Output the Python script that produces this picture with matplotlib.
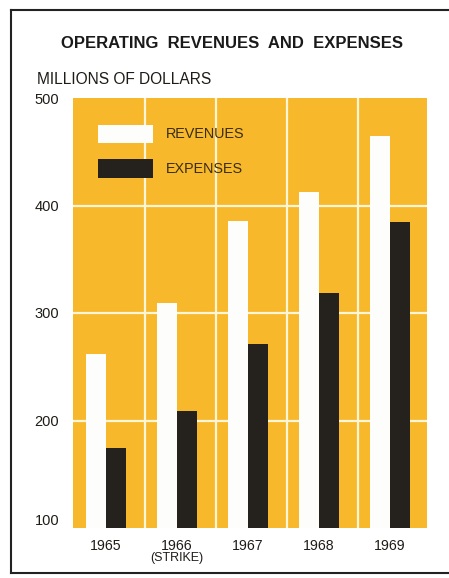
import matplotlib.pyplot as plt
from matplotlib.patches import Rectangle
from matplotlib.lines import Line2D
from matplotlib.transforms import blended_transform_factory
import numpy as np

plt.rcParams.update({
    "font.family": "sans-serif",
    "font.sans-serif": ["Liberation Sans", "DejaVu Sans"],
})

# Dati (milioni di dollari)
anni = ["1965", "1966", "1967", "1968", "1969"]
note_anni = {"1966": "(STRIKE)"}
revenues = [262, 309, 386, 413, 465]
expenses = [174, 209, 271, 319, 385]
y_ticks = [100, 200, 300, 400, 500]

ORANGE = "#F8B82C"
WHITE = "#FDFDFB"
BLACK = "#25211C"
TXT = "#1F1C18"

fig = plt.figure(figsize=(4.49, 5.78), dpi=100)
ax = fig.add_axes([73 / 449, 50 / 578, 354 / 449, 430 / 578])
ax.set_facecolor(ORANGE)

x = np.arange(len(anni))
w = 0.285
ax.bar(x - w / 2, revenues, w, bottom=0, color=WHITE, zorder=3, label="REVENUES")
ax.bar(x + w / 2, expenses, w, bottom=0, color=BLACK, zorder=3, label="EXPENSES")

ax.set_ylim(100, 500)
ax.set_xlim(-0.465, 4.52)

# griglia bianca
for yv in [200, 300, 400]:
    ax.axhline(yv, color="#FFF6D8", lw=1.6, zorder=1)
for xv in x[:-1] + 0.55:
    ax.axvline(xv, color="#FFF6D8", lw=1.6, zorder=1)

for s in ax.spines.values():
    s.set_visible(False)

ax.set_yticks(y_ticks)
ax.set_yticklabels([str(v) for v in y_ticks], fontsize=10.5, color=TXT)
ax.tick_params(axis="y", length=0, pad=10)
ax.get_yticklabels()[0].set_va("bottom")

ax.set_xticks(x)
ax.set_xticklabels(anni, fontsize=10.2, color=TXT)
ax.tick_params(axis="x", length=0, pad=8)

# nota sotto l'anno dello sciopero
trans = blended_transform_factory(ax.transData, fig.transFigure)
for i, a in enumerate(anni):
    if a in note_anni:
        ax.text(i, 1 - 558 / 578, note_anni[a], transform=trans, fontsize=9,
                color=TXT, ha="center", va="center")

# legenda manuale
lx0, lw = 98 / 449, 55 / 449
fig.patches.append(Rectangle((lx0, 1 - 143 / 578), lw, 18 / 578, transform=fig.transFigure,
                             facecolor=WHITE, edgecolor="none", zorder=5))
fig.patches.append(Rectangle((lx0, 1 - 178 / 578), lw, 19 / 578, transform=fig.transFigure,
                             facecolor=BLACK, edgecolor="none", zorder=5))
fig.text(166 / 449, 1 - 134 / 578, "REVENUES", fontsize=10.4, color="#3A2E14", va="center")
fig.text(166 / 449, 1 - 169 / 578, "EXPENSES", fontsize=10.4, color="#3A2E14", va="center")

# titoli
fig.text(232 / 449, 1 - 44 / 578, "OPERATING  REVENUES  AND  EXPENSES", fontsize=12,
         fontweight="bold", color="#1A1A1A", ha="center", va="center")
fig.text(37 / 449, 1 - 79 / 578, "MILLIONS OF DOLLARS", fontsize=11.2, color=TXT, va="center")

# cornice (sinistra, alto, basso)
for xs, ys in [((11, 11), (10, 573)), ((11, 449), (10, 10)), ((11, 449), (573, 573))]:
    fig.lines.append(Line2D([v / 449 for v in xs], [1 - v / 578 for v in ys],
                            transform=fig.transFigure, color="#222222", lw=1.5))

fig.savefig("out.png", dpi=100)
